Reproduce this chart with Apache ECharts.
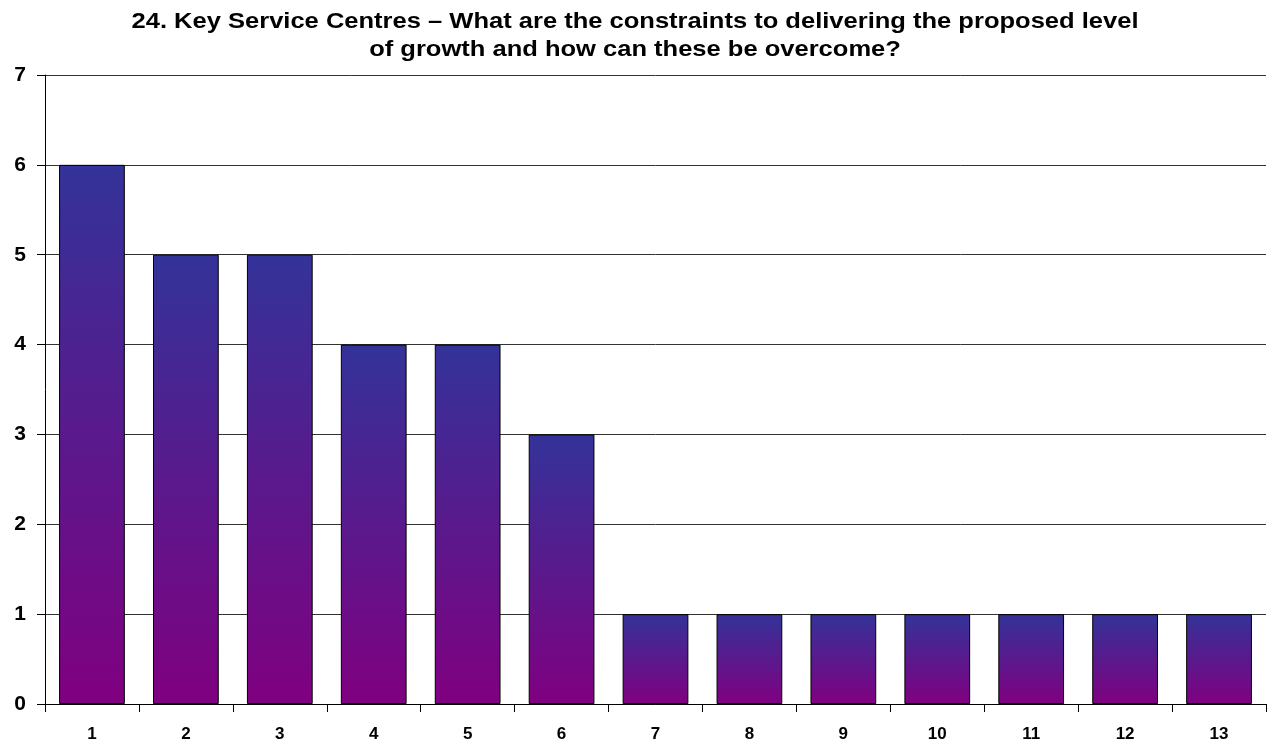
<!DOCTYPE html>
<html><head><meta charset="utf-8">
<script src="https://cdn.jsdelivr.net/npm/echarts@6/dist/echarts.min.js"></script>
<style>html,body{margin:0;padding:0;background:#fff}#c{width:1272px;height:745px}</style>
</head><body><div id="c"></div>
<script>
const titleText = "24. Key Service Centres \u2013 What are the constraints to delivering the proposed level\nof growth and how can these be overcome?";
const categories = ["1","2","3","4","5","6","7","8","9","10","11","12","13"];
const values = [6,5,5,4,4,3,1,1,1,1,1,1,1];
const yMin = 0, yMax = 7, yInterval = 1;

const chart = echarts.init(document.getElementById('c'));
chart.setOption({
  animation: false,
  backgroundColor: '#fff',
  graphic: [{
    type: 'text', x: 635, y: 8, scaleX: 1.16,
    style: {
      text: titleText, textAlign: 'center', textVerticalAlign: 'top',
      fontFamily: 'Liberation Sans, Arial', fontWeight: 'bold', fontSize: 22, lineHeight: 28, fill: '#000'
    }
  }],
  grid: {left: 45, right: 6, top: 75, bottom: 41, containLabel: false},
  xAxis: {
    type: 'category', data: categories,
    axisLine: {lineStyle: {color: '#000', width: 1}},
    axisTick: {show: true, alignWithLabel: false, length: 8, lineStyle: {color: '#000'}},
    axisLabel: {fontFamily: 'Liberation Sans, Arial', fontWeight: 'bold', fontSize: 17, color: '#000', margin: 22}
  },
  yAxis: {
    type: 'value', min: yMin, max: yMax, interval: yInterval,
    axisLine: {show: true, lineStyle: {color: '#000', width: 1}},
    axisTick: {show: true, length: 8, lineStyle: {color: '#000'}},
    splitLine: {show: true, lineStyle: {color: '#333', width: 1}},
    axisLabel: {fontFamily: 'Liberation Sans, Arial', fontWeight: 'bold', fontSize: 21, color: '#000', margin: 19}
  },
  series: [{
    type: 'bar', data: values, barWidth: '70%',
    itemStyle: {
      borderColor: '#000', borderWidth: 1,
      color: new echarts.graphic.LinearGradient(0,0,0,1,[{offset:0,color:'#333399'},{offset:1,color:'#800080'}])
    }
  }]
});
</script></body></html>
